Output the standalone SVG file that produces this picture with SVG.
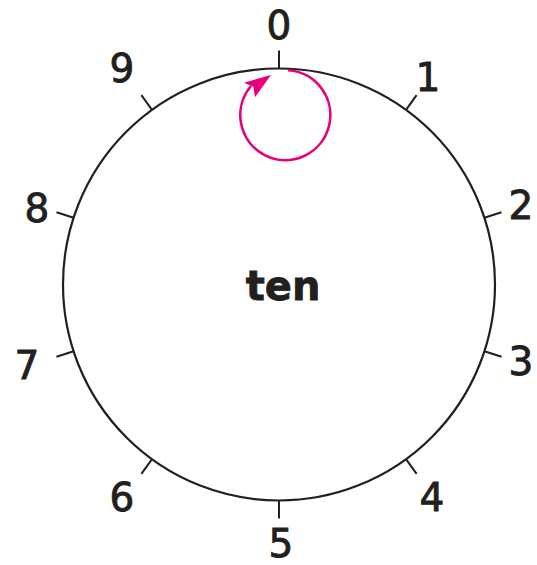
<svg xmlns="http://www.w3.org/2000/svg" width="537" height="565" viewBox="0 0 537 565">
<style>
.num{font-family:"DejaVu Sans",sans-serif;font-size:39px;fill:#231f20;stroke:#231f20;stroke-width:0.9;text-anchor:middle}
.tick{stroke:#231f20;stroke-width:2;fill:none}
</style>
<rect width="537" height="565" fill="#fff"/>
<g id="dial">
<circle cx="279" cy="284.5" r="216" fill="none" stroke="#231f20" stroke-width="2.2"/>
<text x="283" y="300" style="font-family:'DejaVu Sans',sans-serif;font-size:40px;font-weight:bold;fill:#231f20;stroke:#231f20;stroke-width:0.8;text-anchor:middle">ten</text>
</g>
<g id="ticks">
<line class="tick" x1="279" y1="68.5" x2="279" y2="50.5"/>
<line class="tick" x1="406" y1="109.8" x2="416.6" y2="95.2"/>
<line class="tick" x1="484.4" y1="217.8" x2="501.5" y2="212.2"/>
<line class="tick" x1="484.4" y1="351.2" x2="501.5" y2="356.8"/>
<line class="tick" x1="406" y1="459.2" x2="416.6" y2="473.8"/>
<line class="tick" x1="279" y1="500.5" x2="279" y2="518.5"/>
<line class="tick" x1="152" y1="459.2" x2="141.4" y2="473.8"/>
<line class="tick" x1="73.6" y1="351.2" x2="56.5" y2="356.8"/>
<line class="tick" x1="73.6" y1="217.8" x2="56.5" y2="212.2"/>
<line class="tick" x1="152" y1="109.8" x2="141.4" y2="95.2"/>
</g>
<g id="labels">
<text class="num" x="279" y="39">0</text>
<text class="num" x="428" y="91">1</text>
<text class="num" x="521" y="219">2</text>
<text class="num" x="521" y="375">3</text>
<text class="num" x="432" y="511">4</text>
<text class="num" x="281" y="557">5</text>
<text class="num" x="122" y="511">6</text>
<text class="num" x="27" y="379">7</text>
<text class="num" x="37" y="222">8</text>
<text class="num" x="122" y="82">9</text>
</g>
<g id="connectors">
<path d="M288 70.2 A45 45 0 1 1 251 86" fill="none" stroke="#e6007e" stroke-width="2.6"/>
<polygon points="271,75 244,82.7 253.3,86.7 255,97.3" fill="#e6007e"/>
</g>
</svg>
